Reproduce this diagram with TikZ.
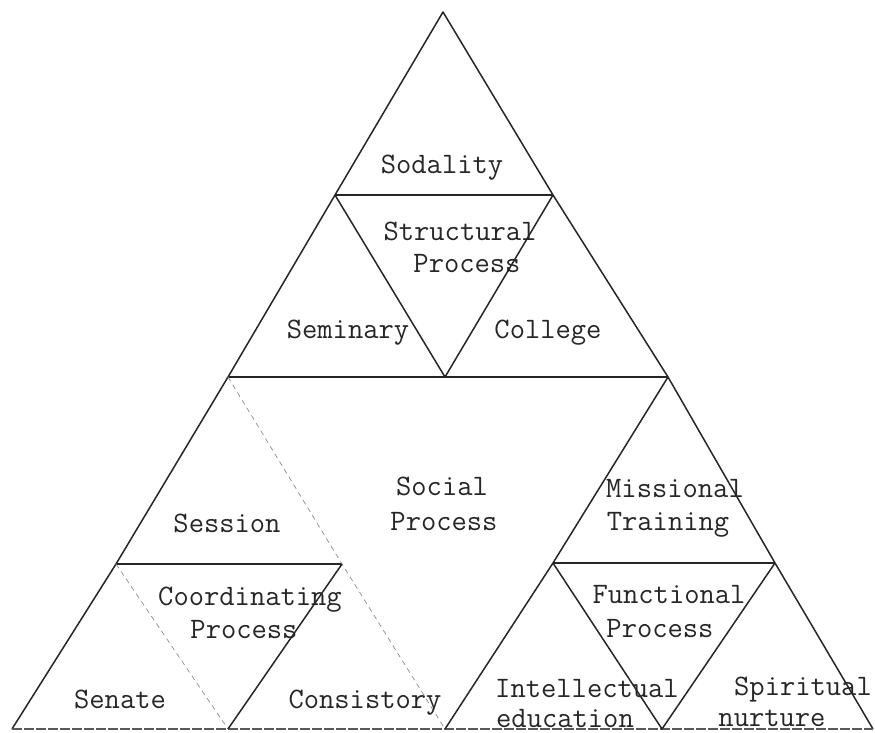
\documentclass[tikz,border=0pt]{standalone}
\usepackage{fontspec}
\usetikzlibrary{positioning}

\begin{document}
\begin{tikzpicture}[x=1pt, y=-1pt,
  edge/.style={line width=1.5pt, black!85, line join=round},
  faint/.style={line width=0.7pt, black!45, dash pattern=on 5pt off 4pt},
  base/.style={line width=1.1pt, black!65, dash pattern=on 10pt off 2pt},
  lbl/.style={font=\ttfamily\fontsize{29.7}{30}\selectfont, inner sep=0pt,
              anchor=base, text=black!85}]

\useasboundingbox (0,0) rectangle (875,733);

% ---------------- corners of the big triangle ----------------------------
\coordinate (apex) at (443,12);
\coordinate (bl)   at (12,729);
\coordinate (br)   at (873,729);

% ---------------- corners of the sub-triangles ---------------------------
\coordinate (tl) at (335,195);  \coordinate (tr) at (553,195);
\coordinate (tv) at (445,377);
\coordinate (ml) at (228,377);  \coordinate (mr) at (668,377);
\coordinate (mv) at (445,729);
\coordinate (sl) at (116,564);  \coordinate (sr) at (342,564);
\coordinate (sv) at (228,729);
\coordinate (fl) at (553,563);  \coordinate (fr) at (775,563);
\coordinate (fv) at (662,729);

% ---------------- outline and cross lines --------------------------------
\draw[edge] (bl) -- (sl) -- (ml) -- (tl) -- (apex) -- (tr) -- (mr) -- (fr) -- (br);
\draw[base] (bl) -- (br);
\draw[edge] (tl) -- (tr);
\draw[edge] (ml) -- (mr);
\draw[edge] (sl) -- (sr);
\draw[edge] (fl) -- (fr);

% ---------------- the inverted triangles ---------------------------------
\draw[edge] (tl) -- (tv) -- (tr);
\draw[edge] (mr) -- (fl) -- (mv);
\draw[faint] (ml) -- (sr) -- (mv);
\draw[faint] (sl) -- (sv);
\draw[edge] (sr) -- (sv);
\draw[edge] (fl) -- (fv) -- (fr);

% ---------------- labels -------------------------------------------------
\node[lbl] (sodality)  at (442,173) {Sodality};
\node[lbl] (struct)    at (460,240) {Structural};
\node[lbl] (structp)   at (467,272) {Process};
\node[lbl] (seminary)  at (348,338) {Seminary};
\node[lbl] (college)   at (548,338) {College};

\node[lbl] (social)    at (442,495) {Social};
\node[lbl] (socialp)   at (444,530) {Process};
\node[lbl] (missional) at (675,497) {Missional};
\node[lbl] (training)  at (668,530) {Training};

\node[lbl] (session)   at (227,532) {Session};
\node[lbl] (coord)     at (250,605) {Coordinating};
\node[lbl] (coordp)    at (244,638) {Process};
\node[lbl] (functional) at (669,603) {Functional};
\node[lbl] (functp)    at (660,637) {Process};

\node[lbl] (senate)    at (120,708) {Senate};
\node[lbl] (consist)   at (365,708) {Consistory};
\node[lbl] (intell)    at (587,697) {Intellectual};
\node[lbl] (educ)      at (565,727) {education};
\node[lbl] (spirit)    at (803,695) {Spiritual};
\node[lbl] (nurture)   at (772,726) {nurture};
\end{tikzpicture}
\end{document}
